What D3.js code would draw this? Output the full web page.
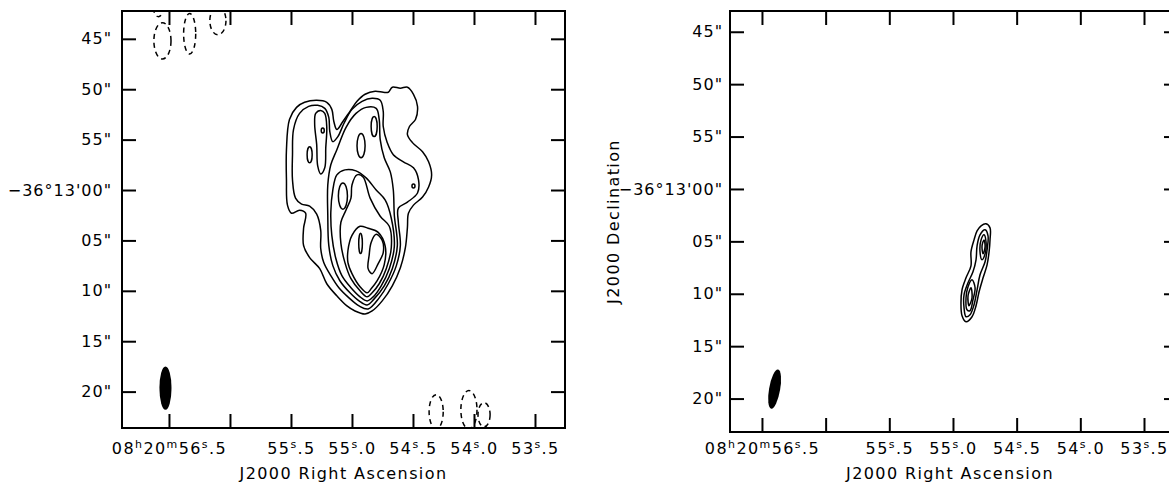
<!DOCTYPE html>
<html>
<head>
<meta charset="utf-8">
<script src="https://cdn.jsdelivr.net/npm/d3@7"></script>
<style>
  body { margin: 0; background: #fff; }
  svg text { font-family: "DejaVu Sans", sans-serif; font-size: 16px; letter-spacing: 1.4px; fill: #000; }
  svg .dec text { letter-spacing: 1px; }
</style>
</head>
<body>
<svg id="chart"></svg>
<script>
// offsets are arcsec from 08h20m55.0s, -36d13m00s (x: west, y: south)
const raRef = 55.0;
const secPerArcsec = 1 / (15 * Math.cos(36.217 * Math.PI / 180));

const raTicks = [56.5, 56.0, 55.5, 55.0, 54.5, 54.0, 53.5];
const raLabels = [
  [['08', 0], ['h', 1], ['20', 0], ['m', 1], ['56', 0], ['s', 1], ['.5', 0]],
  [],
  [['55', 0], ['s', 1], ['.5', 0]],
  [['55', 0], ['s', 1], ['.0', 0]],
  [['54', 0], ['s', 1], ['.5', 0]],
  [['54', 0], ['s', 1], ['.0', 0]],
  [['53', 0], ['s', 1], ['.5', 0]]
];
const decTicks = [-15, -10, -5, 0, 5, 10, 15, 20];
const decLabels = ['45"', '50"', '55"', '\u221236\u00b013\'00"', '05"', '10"', '15"', '20"'];

// left map: positive contours
const leftContours = [
  [[-6.2,-7.0],[-5.5,-8.2],[-4.7,-8.7],[-3.5,-8.9],[-2.5,-8.7],[-2.0,-8.0],[-1.8,-6.8],[-1.5,-6.0],[-0.9,-6.8],[-0.2,-7.8],[0.5,-8.8],[1.3,-9.5],[2.3,-9.8],[3.1,-9.7],[3.6,-9.7],[4.0,-10.2],[4.8,-10.1],[5.5,-10.2],[6.1,-9.5],[6.5,-8.3],[6.3,-7.0],[5.7,-6.3],[5.5,-5.5],[6.0,-4.7],[7.0,-3.8],[7.6,-2.8],[7.9,-1.5],[7.6,-0.3],[7.0,0.7],[6.1,1.5],[5.6,2.3],[5.5,3.7],[5.3,5.7],[4.8,7.7],[4.0,9.5],[3.0,11.0],[2.0,12.0],[1.3,12.3],[0.3,12.0],[-0.5,11.5],[-1.5,10.5],[-2.5,9.3],[-3.2,7.8],[-4.2,6.7],[-4.8,5.5],[-4.8,3.8],[-4.6,2.3],[-5.2,2.0],[-6.0,2.3],[-6.4,1.5],[-6.5,-1.0],[-6.5,-4.0]],
  [[-5.8,-6.0],[-5.2,-7.6],[-4.3,-8.3],[-3.4,-8.4],[-2.7,-8.1],[-2.3,-7.2],[-2.2,-5.8],[-1.9,-4.8],[-1.4,-5.3],[-0.8,-6.6],[0.0,-8.0],[1.0,-8.8],[2.0,-9.1],[2.8,-8.9],[3.1,-7.8],[3.1,-6.3],[3.5,-4.7],[4.1,-3.5],[5.1,-2.8],[6.1,-2.2],[6.6,-1.0],[6.5,0.3],[5.5,1.2],[4.6,1.8],[4.6,3.2],[4.8,5.5],[4.4,7.5],[3.6,9.3],[2.7,10.7],[1.6,11.8],[0.7,11.5],[-0.3,10.7],[-1.3,9.7],[-2.1,8.5],[-2.8,7.2],[-3.1,5.8],[-3.1,4.0],[-3.5,2.4],[-4.2,1.6],[-5.0,1.4],[-5.6,0.8],[-5.9,-1.0],[-5.9,-3.5]],
  [[-2.1,-2.5],[-1.5,-4.0],[-0.6,-6.2],[0.4,-7.6],[1.4,-8.2],[2.4,-8.1],[2.7,-7.0],[2.8,-5.0],[3.2,-3.2],[3.8,-1.8],[4.1,0.0],[4.2,2.5],[4.5,5.5],[4.0,7.8],[3.2,9.5],[2.2,10.8],[1.5,11.4],[0.7,11.0],[-0.2,10.2],[-1.2,9.0],[-1.9,7.5],[-2.3,5.5],[-2.4,2.5],[-2.4,-0.5]],
  [[-1.9,0.0],[-1.5,-1.5],[-0.7,-2.0],[0.4,-1.9],[1.4,-1.2],[2.4,0.0],[3.3,1.0],[3.9,2.8],[4.2,5.6],[3.7,7.8],[2.9,9.5],[2.1,10.6],[1.5,11.0],[0.8,10.6],[-0.1,9.7],[-1.0,8.5],[-1.6,6.8],[-2.0,4.5],[-2.1,2.2]],
  [[0.0,-0.5],[0.5,-1.5],[1.1,-1.3],[1.8,0.8],[2.8,2.6],[3.7,3.6],[3.9,5.7],[3.4,7.8],[2.7,9.3],[2.0,10.2],[1.5,10.6],[0.8,10.0],[-0.1,8.8],[-0.7,7.2],[-1.1,5.3],[-1.1,3.2],[-0.6,2.0],[-0.1,0.8]],
  [[-0.4,6.0],[0.0,4.5],[0.8,3.6],[1.6,3.8],[2.6,4.2],[3.3,5.6],[3.2,7.4],[2.5,9.0],[1.9,9.8],[1.5,10.2],[0.8,9.6],[0.0,8.3],[-0.4,7.2]],
  [[2.4,4.4],[3.0,5.0],[3.1,6.2],[2.6,7.3],[2.0,8.3],[1.6,7.8],[1.7,6.5],[1.9,5.2]],
  [[-3.6,-7.6],[-3.1,-7.9],[-2.7,-7.6],[-2.5,-6.2],[-2.6,-4.2],[-2.7,-2.2],[-3.1,-1.6],[-3.4,-2.4],[-3.5,-4.5],[-3.7,-6.5]]
];
// small closed positive contours: [dx, dy, rx, ry] in arcsec
const leftPeaks = [[-2.9,-5.9,0.15,0.25],[-4.2,-3.5,0.25,0.8],[0.9,-4.4,0.4,1.2],[2.2,-6.3,0.3,1.0],[-0.9,0.6,0.45,1.3],[0.85,5.3,0.18,1.0],[6.1,-0.4,0.15,0.2]];
// negative contours (dashed)
const leftNegative = [[-19.2,-18.2,0.5,1.0],[-18.8,-14.8,0.85,1.8],[-16.1,-15.5,0.6,2.0],[-13.3,-16.8,0.8,1.4],[8.35,22.0,0.7,1.7],[11.6,21.8,0.8,1.9],[13.1,22.3,0.6,1.2]];
// beam: [dx, dy, minor, major, pa]
const leftBeam = [-18.5, 19.65, 1.2, 4.3, 0];

// right map
const rightContours = [
  [[3.14,3.33],[3.52,3.71],[3.52,4.86],[3.43,6.0],[3.24,7.24],[2.86,8.48],[2.48,9.81],[2.19,11.14],[1.81,12.19],[1.24,12.67],[0.86,12.1],[0.76,10.86],[0.86,9.62],[1.24,8.48],[1.71,7.33],[1.71,6.0],[2.0,4.86],[2.29,4.0],[2.67,3.52]],
  [[3.05,3.9],[3.33,4.48],[3.24,5.81],[3.05,6.95],[2.57,8.19],[2.29,9.62],[2.0,11.05],[1.62,12.0],[1.24,12.19],[1.05,11.33],[1.05,10.1],[1.43,8.95],[1.9,7.9],[2.19,6.76],[2.29,5.43],[2.57,4.38]],
  [[2.95,4.38],[3.14,5.05],[3.05,6.19],[2.76,6.76],[2.57,6.0],[2.67,4.86]],
  [[1.81,8.67],[2.1,9.43],[1.9,10.57],[1.62,11.62],[1.33,11.52],[1.24,10.38],[1.43,9.33]],
  [[2.95,4.86],[3.05,5.52],[2.86,6.19],[2.76,5.43]],
  [[1.71,9.43],[1.81,10.38],[1.52,11.14],[1.43,10.19]]
];
const rightBeam = [-16.95, 19.1, 1.05, 3.8, 10];

const panels = [
  { left: 122, top: 11, width: 443, height: 417, ra: [56.885, 53.254], dec: [-17.76, 23.61], pad: 15, decPad: 10,
    contours: leftContours, peaks: leftPeaks, negative: leftNegative, beam: leftBeam, title: null },
  { left: 730, top: 11, width: 448, height: 421, ra: [56.751, 53.233], dec: [-16.98, 23.19], pad: 11, decPad: 7,
    contours: rightContours, peaks: [], negative: [], beam: rightBeam, title: 'J2000 Declination' }
];

const svg = d3.select('#chart').attr('width', 1169).attr('height', 488);

const drawPanel = (p, idx) => {
  const x = d3.scaleLinear().domain(p.ra).range([0, p.width]);
  const y = d3.scaleLinear().domain(p.dec).range([0, p.height]);
  const px = d => x(raRef - d * secPerArcsec);
  const arc = a => Math.abs(x(raRef) - x(raRef - a * secPerArcsec));

  const g = svg.append('g').attr('transform', `translate(${p.left},${p.top})`);

  g.append('clipPath').attr('id', `clip${idx}`)
    .append('rect').attr('width', p.width).attr('height', p.height);

  const maps = g.append('g').attr('clip-path', `url(#clip${idx})`)
    .attr('fill', 'none').attr('stroke', '#000').attr('stroke-width', 1.5);

  const line = d3.line()
    .x(d => px(d[0]))
    .y(d => y(d[1]))
    .curve(d3.curveCatmullRomClosed.alpha(0.5));

  maps.selectAll('path.pos').data(p.contours).enter()
    .append('path').attr('class', 'pos').attr('d', line);

  maps.selectAll('ellipse.peak').data(p.peaks).enter()
    .append('ellipse').attr('class', 'peak')
    .attr('cx', d => px(d[0])).attr('cy', d => y(d[1]))
    .attr('rx', d => arc(d[2])).attr('ry', d => y(d[3]) - y(0));

  maps.selectAll('ellipse.neg').data(p.negative).enter()
    .append('ellipse').attr('class', 'neg')
    .attr('stroke-dasharray', '5,4')
    .attr('cx', d => px(d[0])).attr('cy', d => y(d[1]))
    .attr('rx', d => arc(d[2])).attr('ry', d => y(d[3]) - y(0));

  const [bx, by, bmin, bmaj, pa] = p.beam;
  maps.append('ellipse')
    .attr('fill', '#000').attr('stroke', 'none')
    .attr('transform', `translate(${px(bx)},${y(by)}) rotate(${pa})`)
    .attr('rx', arc(bmin / 2)).attr('ry', y(bmaj / 2) - y(0));

  // axes, ticks pointing inward
  const bottom = g.append('g').attr('transform', `translate(0,${p.height})`)
    .call(d3.axisBottom(x).tickValues(raTicks).tickSize(-14).tickSizeOuter(0).tickPadding(p.pad).tickFormat(''));
  bottom.selectAll('.tick text').each(function (d, i) {
    const t = d3.select(this);
    let up = false;
    raLabels[i].forEach(([s, sup]) => {
      const span = t.append('tspan').attr('font-size', sup ? 11 : 16).text(s);
      if (sup) span.attr('dy', -6);
      else if (up) span.attr('dy', 6);
      up = !!sup;
    });
  });

  g.append('g')
    .call(d3.axisTop(x).tickValues(raTicks).tickSize(-14).tickSizeOuter(0).tickFormat(''));

  g.append('g').attr('class', 'dec')
    .call(d3.axisLeft(y).tickValues(decTicks).tickSize(-14).tickSizeOuter(0).tickPadding(p.decPad)
      .tickFormat((d, i) => decLabels[i]));

  g.append('g').attr('transform', `translate(${p.width},0)`)
    .call(d3.axisRight(y).tickValues(decTicks).tickSize(-14).tickSizeOuter(0).tickFormat(''));

  g.selectAll('.domain').remove();
  g.selectAll('.tick line').attr('stroke-width', 2);
  g.selectAll('.tick text').attr('font-size', null).attr('font-family', null);

  g.append('rect')
    .attr('width', p.width).attr('height', p.height)
    .attr('fill', 'none').attr('stroke', '#000').attr('stroke-width', 2);

  g.append('text')
    .attr('x', p.width / 2 - (idx ? 4 : 0))
    .attr('y', 468)
    .attr('text-anchor', 'middle')
    .text('J2000 Right Ascension');

  if (p.title) {
    g.append('text')
      .attr('transform', `translate(${619 - p.left},${p.height / 2}) rotate(-90)`)
      .attr('text-anchor', 'middle')
      .text(p.title);
  }
};

panels.forEach(drawPanel);
</script>
</body>
</html>
